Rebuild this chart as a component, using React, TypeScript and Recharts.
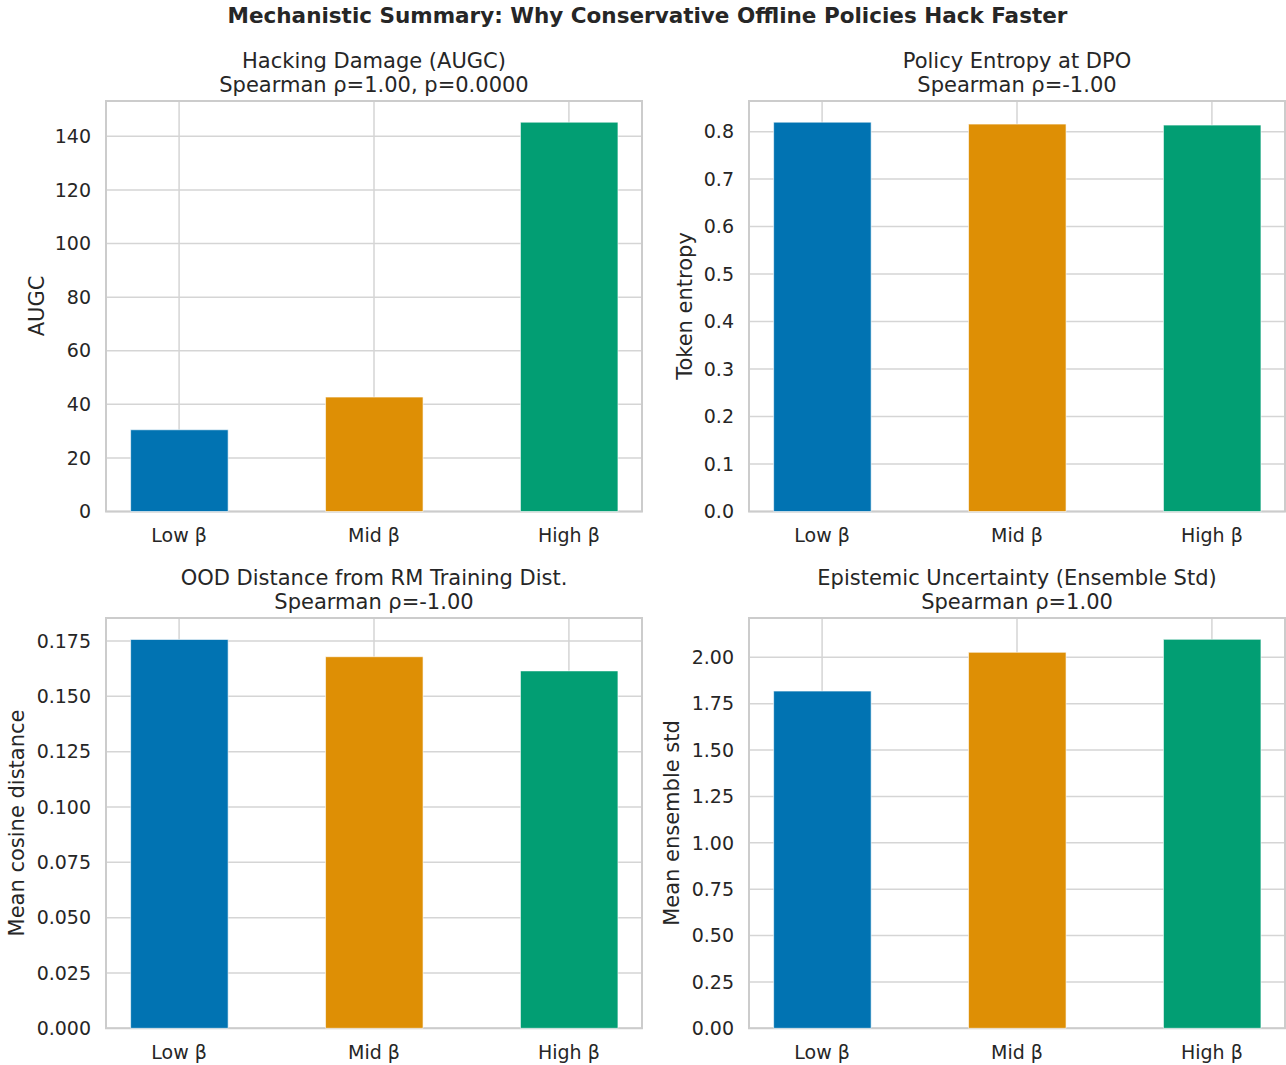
import React from 'react';
import { BarChart, Bar, XAxis, YAxis, CartesianGrid, Cell, ReferenceArea } from 'recharts';

const categories = ['Low β', 'Mid β', 'High β'];
const barColors = ['#0173B2', '#DE8F05', '#029E73'];

const augcValues = [30.5, 42.7, 145.3];
const entropyValues = [0.82, 0.8158, 0.8137];
const oodValues = [0.1757, 0.1679, 0.1615];
const ensembleStdValues = [1.818, 2.027, 2.097];

const augcTicks = [0, 20, 40, 60, 80, 100, 120, 140];
const entropyTicks = [0, 0.1, 0.2, 0.3, 0.4, 0.5, 0.6, 0.7, 0.8];
const oodTicks = [0, 0.025, 0.05, 0.075, 0.1, 0.125, 0.15, 0.175];
const stdTicks = [0, 0.25, 0.5, 0.75, 1.0, 1.25, 1.5, 1.75, 2.0];

const FONT = 'DejaVu Sans, Verdana, sans-serif';
const TEXT = '#262626';
const GRID = '#d5d5d5';

type PanelProps = {
  L: number; T: number; W: number; H: number;
  values: number[];
  ticks: number[];
  yMax: number;
  decimals: number;
  title1: string;
  title2: string;
  ylabel: string;
  ylabelX: number;
};

function Panel(p: PanelProps) {
  const data = p.values.map((v, i) => ({ x: i, value: v, name: categories[i] }));
  const xDomain: [number, number] = [-0.375, 2.375];
  return (
    <>
      <div
        style={{
          position: 'absolute',
          left: p.L - 100,
          top: p.T - 10,
        }}
      >
        <BarChart
          width={p.W + 110}
          height={p.H + 60}
          data={data}
          margin={{ top: 10, right: 10, left: 0, bottom: 20 }}
        >
          <CartesianGrid stroke={GRID} strokeWidth={1.5} />
          <XAxis
            type="number"
            dataKey="x"
            domain={xDomain}
            ticks={[0, 1, 2]}
            allowDecimals={false}
            tickFormatter={(v: number) => categories[v]}
            tickLine={false}
            axisLine={false}
            tickMargin={11}
            height={30}
            tick={{ fill: TEXT, fontSize: 19, fontFamily: FONT }}
          />
          <YAxis
            type="number"
            domain={[0, p.yMax]}
            ticks={p.ticks}
            tickFormatter={(v: number) => v.toFixed(p.decimals)}
            tickLine={false}
            axisLine={false}
            tickMargin={9}
            width={100}
            tick={{ fill: TEXT, fontSize: 19, fontFamily: FONT }}
          />
          <Bar dataKey="value" barSize={97.5} isAnimationActive={false} stroke="#ffffff" strokeWidth={0.6}>
            {data.map((d, i) => (
              <Cell key={d.name} fill={barColors[i]} />
            ))}
          </Bar>
          <ReferenceArea
            x1={xDomain[0]}
            x2={xDomain[1]}
            y1={0}
            y2={p.yMax}
            fill="none"
            fillOpacity={0}
            stroke="#cccccc"
            strokeWidth={2}
            ifOverflow="extendDomain"
          />
        </BarChart>
      </div>
      <div
        style={{
          position: 'absolute',
          left: p.L - 50,
          width: p.W + 100,
          top: p.T - 52,
          textAlign: 'center',
          fontFamily: FONT,
          fontSize: 21,
          lineHeight: '24px',
          color: TEXT,
          whiteSpace: 'nowrap',
        }}
      >
        <div>{p.title1}</div>
        <div>{p.title2}</div>
      </div>
      <div
        style={{
          position: 'absolute',
          left: p.ylabelX,
          top: p.T + p.H / 2,
          transform: 'translate(-50%, -50%) rotate(-90deg)',
          fontFamily: FONT,
          fontSize: 21,
          color: TEXT,
          whiteSpace: 'nowrap',
        }}
      >
        {p.ylabel}
      </div>
    </>
  );
}

export default function App() {
  return (
    <div
      style={{
        position: 'absolute',
        left: 0,
        top: 0,
        width: 1286,
        height: 1065,
        overflow: 'hidden',
        background: '#ffffff',
      }}
    >
      <div
        style={{
          position: 'absolute',
          left: 0,
          width: 1295,
          top: 4,
          textAlign: 'center',
          fontFamily: FONT,
          fontWeight: 'bold',
          fontSize: 21.5,
          lineHeight: '24px',
          color: TEXT,
          whiteSpace: 'nowrap',
        }}
      >
        Mechanistic Summary: Why Conservative Offline Policies Hack Faster
      </div>
      <Panel
        L={106} T={100.5} W={536} H={410.5}
        values={augcValues} ticks={augcTicks} yMax={153.2} decimals={0}
        title1="Hacking Damage (AUGC)" title2="Spearman ρ=1.00, p=0.0000"
        ylabel="AUGC" ylabelX={37}
      />
      <Panel
        L={749} T={100.5} W={536} H={410.5}
        values={entropyValues} ticks={entropyTicks} yMax={0.8645} decimals={1}
        title1="Policy Entropy at DPO" title2="Spearman ρ=-1.00"
        ylabel="Token entropy" ylabelX={685}
      />
      <Panel
        L={106} T={618} W={536} H={410.3}
        values={oodValues} ticks={oodTicks} yMax={0.1854} decimals={3}
        title1="OOD Distance from RM Training Dist." title2="Spearman ρ=-1.00"
        ylabel="Mean cosine distance" ylabelX={17}
      />
      <Panel
        L={749} T={618} W={536} H={410.3}
        values={ensembleStdValues} ticks={stdTicks} yMax={2.212} decimals={2}
        title1="Epistemic Uncertainty (Ensemble Std)" title2="Spearman ρ=1.00"
        ylabel="Mean ensemble std" ylabelX={672}
      />
    </div>
  );
}
